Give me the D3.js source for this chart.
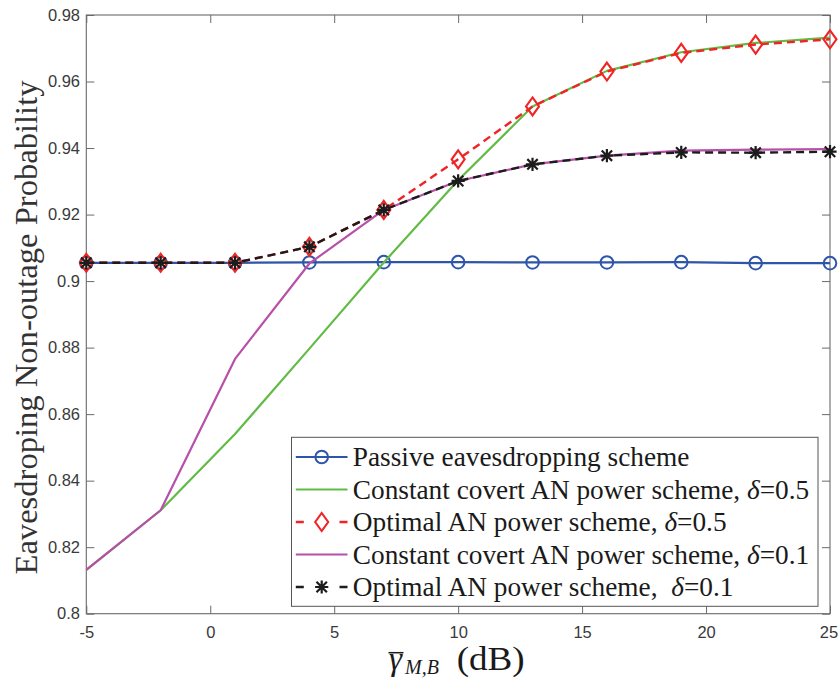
<!DOCTYPE html>
<html>
<head>
<meta charset="utf-8">
<script src="https://cdn.jsdelivr.net/npm/d3@7"></script>
<style>
  html, body { margin: 0; padding: 0; background: #ffffff; }
  svg { display: block; }
</style>
</head>
<body>
<svg id="chart" width="838" height="679"></svg>
<script>
// ---------------- data ----------------
const xValues = [-5, -2, 1, 4, 7, 10, 13, 16, 19, 22, 25];
const passive = [0.9055, 0.9055, 0.9055, 0.9056, 0.9057, 0.9057, 0.9056, 0.9056, 0.9057, 0.9054, 0.9054];
const constant05 = [0.8132, 0.8311, 0.8540, 0.8797, 0.9056, 0.9303, 0.9525, 0.9632, 0.9688, 0.9716, 0.9732];
const optimal05 = [0.9055, 0.9055, 0.9055, 0.9103, 0.9214, 0.9366, 0.9525, 0.9630, 0.9686, 0.9711, 0.9727];
const constant01 = [0.8132, 0.8311, 0.8766, 0.9053, 0.9214, 0.9301, 0.9351, 0.9377, 0.9392, 0.9395, 0.9397];
const optimal01 = [0.9055, 0.9055, 0.9055, 0.9103, 0.9214, 0.9301, 0.9351, 0.9377, 0.9387, 0.9386, 0.9389];
const xTicks = [-5, 0, 5, 10, 15, 20, 25];
const yTicks = [0.8, 0.82, 0.84, 0.86, 0.88, 0.9, 0.92, 0.94, 0.96, 0.98];
const legendLabels = [
  ["Passive eavesdropping scheme", ""],
  ["Constant covert AN power scheme, ", "=0.5"],
  ["Optimal AN power scheme, ", "=0.5"],
  ["Constant covert AN power scheme, ", "=0.1"],
  ["Optimal AN power scheme,  ", "=0.1"]
];

// ---------------- layout ----------------
const svg = d3.select("#chart");
const L = 86.3, R = 830, T = 15, B = 613.7;
const x = d3.scaleLinear().domain([-5, 25]).range([L, R]);
const y = d3.scaleLinear().domain([0.8, 0.98]).range([B, T]);

const axisColor = "#6a6a6a";
const tickFont = "'Liberation Sans', Arial, Helvetica, sans-serif";
const serif = "'Liberation Serif', 'Times New Roman', Times, serif";

const series = [
  { name: "passive", values: passive, color: "#2d55a8", width: 2.2, dash: null, marker: "circle" },
  { name: "c05", values: constant05, color: "#62bb46", width: 2.2, dash: null, marker: null },
  { name: "o05", values: optimal05, color: "#f02424", width: 2.4, dash: "8,5", marker: "diamond" },
  { name: "c01", values: constant01, color: "#b650a8", width: 2.2, dash: null, marker: null },
  { name: "o01", values: optimal01, color: "#1c1c1c", width: 2.4, dash: "8,5", marker: "star" }
];

// ---------------- axes ----------------
const fmt = d => String(+d.toFixed(2));

const gx = svg.append("g").attr("transform", `translate(0,${B})`)
  .call(d3.axisBottom(x).tickValues(xTicks).tickFormat(fmt).tickSizeInner(-8).tickSizeOuter(0).tickPadding(13));
const gy = svg.append("g").attr("transform", `translate(${L},0)`)
  .call(d3.axisLeft(y).tickValues(yTicks).tickFormat(fmt).tickSizeInner(-8).tickSizeOuter(0).tickPadding(6.3));
const gxt = svg.append("g").attr("transform", `translate(0,${T})`)
  .call(d3.axisTop(x).tickValues(xTicks).tickFormat("").tickSizeInner(-8).tickSizeOuter(0));
const gyr = svg.append("g").attr("transform", `translate(${R},0)`)
  .call(d3.axisRight(y).tickValues(yTicks).tickFormat("").tickSizeInner(-8).tickSizeOuter(0));

[gx, gy, gxt, gyr].forEach(g => {
  g.select(".domain").remove();
  g.selectAll(".tick line").attr("stroke", axisColor).attr("stroke-width", 1);
  g.selectAll(".tick text").attr("fill", "#3a3a3a").style("font-family", tickFont).style("font-size", "16.5px");
});
// keep the last x tick label inside the picture
gx.selectAll(".tick text").filter(d => d === 25).attr("dx", "-1.5");

svg.append("rect").attr("x", L).attr("y", T).attr("width", R - L).attr("height", B - T)
  .attr("fill", "none").attr("stroke", axisColor).attr("stroke-width", 1.1);

// ---------------- series ----------------
const line = d3.line().x((d, i) => x(xValues[i])).y(d => y(d));

function drawMarker(g, type, cx, cy, color) {
  if (type === "circle") {
    g.append("circle").attr("cx", cx).attr("cy", cy).attr("r", 6.3)
      .attr("fill", "none").attr("stroke", color).attr("stroke-width", 2);
  } else if (type === "diamond") {
    const w = 6.5, h = 9;
    g.append("path").attr("d", `M${cx},${cy - h}L${cx + w},${cy}L${cx},${cy + h}L${cx - w},${cy}Z`)
      .attr("fill", "none").attr("stroke", color).attr("stroke-width", 2.1);
  } else if (type === "star") {
    const s = 6.6, d = 5.2;
    g.append("path").attr("d",
      `M${cx - s},${cy}L${cx + s},${cy}M${cx},${cy - s}L${cx},${cy + s}` +
      `M${cx - d},${cy - d}L${cx + d},${cy + d}M${cx - d},${cy + d}L${cx + d},${cy - d}`)
      .attr("fill", "none").attr("stroke", color).attr("stroke-width", 2.2);
  }
}

series.forEach(s => {
  const g = svg.append("g");
  g.append("path").datum(s.values).attr("d", line)
    .attr("fill", "none").attr("stroke", s.color).attr("stroke-width", s.width)
    .attr("stroke-dasharray", s.dash).attr("stroke-linejoin", "round");
  if (s.marker) {
    s.values.forEach((v, i) => drawMarker(g, s.marker, x(xValues[i]), y(v), s.color));
  }
});

// ---------------- legend ----------------
const lg = svg.append("g");
const lgX = 291.5, lgY = 437.3, lgW = 526.5, lgH = 169;
lg.append("rect").attr("x", lgX).attr("y", lgY).attr("width", lgW).attr("height", lgH)
  .attr("fill", "#ffffff").attr("stroke", "#555555").attr("stroke-width", 1);
const rowY = [457, 489.5, 522, 554.5, 587];
series.forEach((s, i) => {
  const cy = rowY[i];
  lg.append("line").attr("x1", 295.8).attr("x2", 347.5).attr("y1", cy).attr("y2", cy)
    .attr("stroke", s.color).attr("stroke-width", s.width)
    .attr("stroke-dasharray", s.dash ? "8,35.7,8" : null);
  if (s.marker) drawMarker(lg, s.marker, 321.7, cy, s.color);
  const t = lg.append("text").attr("x", 352.8).attr("y", cy + 9.3)
    .attr("fill", "#1a1a1a").style("font-family", serif).style("font-size", "27.3px")
    .style("white-space", "pre").attr("xml:space", "preserve");
  t.append("tspan").text(legendLabels[i][0]);
  if (legendLabels[i][1]) {
    t.append("tspan").style("font-style", "italic").text("δ");
    t.append("tspan").text(legendLabels[i][1]);
  }
});

// ---------------- axis labels ----------------
svg.append("text")
  .attr("transform", "translate(36.7,327.5) rotate(-90)")
  .attr("text-anchor", "middle")
  .attr("fill", "#333333").style("font-family", serif).style("font-size", "32.6px")
  .text("Eavesdroping Non-outage Probability");

const xl = svg.append("g").attr("fill", "#1a1a1a").style("font-family", serif);
xl.append("text").attr("x", 389).attr("y", 670).style("font-size", "33px").style("font-style", "italic").text("γ");
xl.append("text").attr("x", 405).attr("y", 673.5).style("font-size", "20px").style("font-style", "italic").text("M,B");
xl.append("text").attr("x", 456.7).attr("y", 670).style("font-size", "33px")
  .attr("textLength", 68).attr("lengthAdjust", "spacingAndGlyphs").text("(dB)");
xl.append("line").attr("x1", 388.5).attr("x2", 403.5).attr("y1", 652.7).attr("y2", 652.7)
  .attr("stroke", "#1a1a1a").attr("stroke-width", 1.5);
</script>
</body>
</html>
